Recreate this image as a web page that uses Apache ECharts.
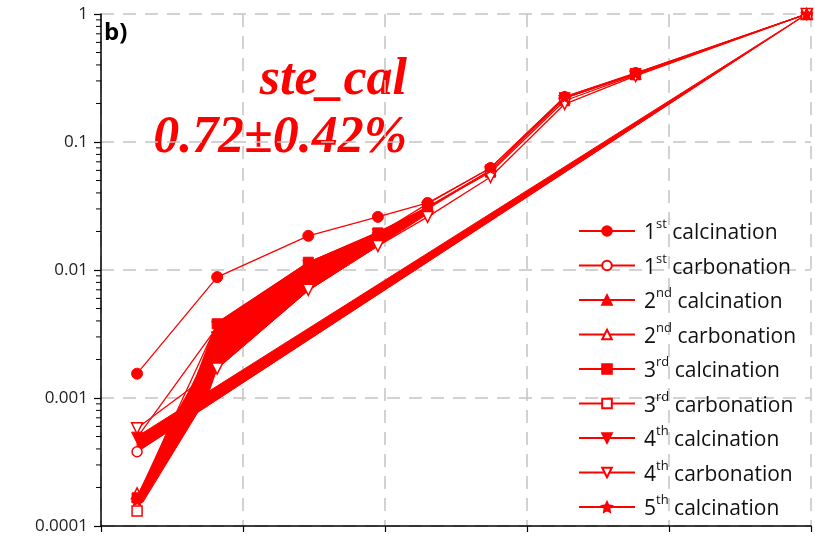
<!DOCTYPE html>
<html>
<head>
<meta charset="utf-8">
<script src="https://cdn.jsdelivr.net/npm/echarts@6/dist/echarts.min.js"></script>
<style>
  html, body { margin: 0; padding: 0; background: #fff; }
  #chart { width: 815px; height: 536px; }
</style>
</head>
<body>
<div id="chart"></div>
<script>
// Sampling positions along the horizontal axis (axis runs 0..5)
const xPositions = [0.254, 0.818, 1.46, 1.95, 2.30, 2.743, 3.265, 3.765, 4.97];

// Cumulative fractions for each stage (null = point not recorded)
const calc1 = [0.00155, 0.0088, 0.0185, 0.026, 0.0334, 0.0626, 0.225, 0.346, 1];
const carb1 = [0.00038, null, null, null, null, null, null, null, 1];
const calc2 = [0.00017, 0.0030, 0.0095, 0.018, 0.030, 0.060, 0.22, 0.34, 1];
const carb2 = [0.00018, null, null, null, null, null, null, null, 1];
const calc3 = [0.000166, 0.0038, 0.0115, 0.0195, 0.031, 0.058, 0.21, 0.335, 1];
const carb3 = [0.000131, null, null, null, null, null, null, null, 1];
const calc4 = [0.00049, 0.0036, 0.0108, 0.019, 0.031, 0.060, 0.22, 0.34, 1];
const carb4 = [0.00058, 0.0017, 0.0070, 0.0154, 0.026, 0.0533, 0.198, 0.328, 1];
const calc5 = [0.00016, 0.0032, 0.0100, 0.019, 0.033, 0.0626, 0.225, 0.346, 1];

// Dense bundles of overlapping traces, given as outlines in data units
const bundleUpper = [[0.254, 0.00050], [4.97, 1.0], [0.254, 0.00038]];
const bundleLower = [
  [0.254, 0.000160], [0.50, 0.00066], [0.663, 0.00138], [0.755, 0.0026],
  [0.818, 0.0039], [1.46, 0.0115], [1.95, 0.0198], [2.30, 0.031],
  [2.30, 0.0274], [1.95, 0.0154], [1.46, 0.0069], [0.818, 0.0017],
  [0.748, 0.00102], [0.296, 0.000154]
];

const yTickLabels = ['0.0001', '0.001', '0.01', '0.1', '1'];
const legendNames = [
  ['1', 'st', 'calcination'], ['1', 'st', 'carbonation'],
  ['2', 'nd', 'calcination'], ['2', 'nd', 'carbonation'],
  ['3', 'rd', 'calcination'], ['3', 'rd', 'carbonation'],
  ['4', 'th', 'calcination'], ['4', 'th', 'carbonation'],
  ['5', 'th', 'calcination']
];

const RED = '#ff0000';
const STAR = 'path://M0,-10L2.94,-4.05L9.51,-3.09L4.76,1.55L5.88,8.09L0,5L-5.88,8.09L-4.76,1.55L-9.51,-3.09L-2.94,-4.05Z';

function pairs(vals) {
  return vals.map((v, i) => [xPositions[i], v]);
}

function lineSeries(idx, vals, symbol, filled, rotate, size, joinGaps) {
  const n = legendNames[idx];
  return {
    name: n.join('|'),
    type: 'line',
    data: pairs(vals),
    connectNulls: joinGaps,
    symbol: symbol,
    symbolSize: size,
    symbolRotate: rotate || 0,
    showAllSymbol: true,
    z: 5,
    lineStyle: { color: RED, width: 1.3 },
    itemStyle: filled
      ? { color: RED, borderColor: RED, borderWidth: 1 }
      : { color: '#ffffff', borderColor: RED, borderWidth: 1.5 },
    emphasis: { disabled: true },
    animation: false
  };
}

// minor tick values for the log axis (2..9 within each decade)
const minorTicks = [];
for (let e = -4; e < 0; e++) {
  for (let m = 2; m <= 9; m++) minorTicks.push(m * Math.pow(10, e));
}

function polygonSeries(pts) {
  return {
    type: 'custom',
    silent: true,
    z: 2,
    data: [0],
    renderItem: function (params, api) {
      return {
        type: 'polygon',
        shape: { points: pts.map(p => api.coord(p)) },
        style: { fill: RED, stroke: RED, lineWidth: 1 }
      };
    },
    animation: false
  };
}

const chart = echarts.init(document.getElementById('chart'), null, { renderer: 'canvas' });

const option = {
  animation: false,
  grid: { left: 101, right: 4, top: 14, bottom: 10, containLabel: false },
  xAxis: {
    type: 'value', min: 0, max: 5, interval: 1,
    axisLine: { show: true, lineStyle: { color: '#000', width: 1.5 } },
    axisTick: { show: true, inside: false, length: 6, lineStyle: { color: '#000', width: 1.2 } },
    axisLabel: { show: false },
    splitLine: { show: true, lineStyle: { color: '#c4c4c4', width: 1.5, type: [13, 9] } }
  },
  yAxis: {
    type: 'log', logBase: 10, min: 0.0001, max: 1,
    axisLine: { show: true, lineStyle: { color: '#000', width: 1.5 } },
    axisTick: { show: true, inside: false, length: 7, lineStyle: { color: '#000', width: 1.2 } },
    axisLabel: {
      show: true, margin: 13, fontFamily: 'Open Sans', fontSize: 17, color: '#222',
      formatter: function (v) {
        const k = Math.round(Math.log10(v)) + 4;
        return yTickLabels[k] !== undefined ? yTickLabels[k] : '';
      }
    },
    splitLine: { show: true, lineStyle: { color: '#c4c4c4', width: 1.5, type: [13, 9] } }
  },
  legend: {
    orient: 'vertical',
    left: 573, top: 213,
    itemWidth: 56, itemHeight: 12, itemGap: 8.5,
    data: legendNames.map(n => n.join('|')),
    formatter: function (name) {
      const p = name.split('|');
      return '{n|' + p[0] + '}{s|' + p[1] + '}{t| ' + p[2] + '}';
    },
    textStyle: {
      color: '#111',
      rich: {
        n: { fontFamily: 'Open Sans', fontSize: 21, color: '#111', lineHeight: 26, verticalAlign: 'bottom', padding: [0, 0, 0, 4] },
        s: { fontFamily: 'Open Sans', fontSize: 13, color: '#111', lineHeight: 26, verticalAlign: 'top' },
        t: { fontFamily: 'Open Sans', fontSize: 21, color: '#111', lineHeight: 26, verticalAlign: 'bottom' }
      }
    },
    selectedMode: false
  },
  graphic: [
    { type: 'text', left: 104, top: 21, style: { text: 'b)', font: 'bold 24px "Open Sans"', fill: '#000' } },
    { type: 'text', right: 408, top: 55, style: { text: 'ste_cal', font: 'italic bold 52px "Liberation Serif"', fill: RED, textAlign: 'right' } },
    { type: 'text', right: 408, top: 113, style: { text: '0.72\u00B10.42%', font: 'italic bold 52px "Liberation Serif"', fill: RED, textAlign: 'right' } }
  ],
  series: [
    polygonSeries(bundleUpper),
    polygonSeries(bundleLower),
    {
      type: 'custom', silent: true, z: 6,
      data: minorTicks,
      renderItem: function (params, api) {
        const p = api.coord([0, api.value(0)]);
        return {
          type: 'line',
          shape: { x1: p[0] - 5, y1: p[1], x2: p[0], y2: p[1] },
          style: { stroke: '#000', lineWidth: 1 }
        };
      },
      encode: { y: 0 },
      animation: false
    },
    lineSeries(0, calc1, 'circle', true, 0, 11, true),
    lineSeries(1, carb1, 'circle', false, 0, 10, true),
    lineSeries(2, calc2, 'triangle', true, 0, 11, true),
    lineSeries(3, carb2, 'triangle', false, 0, 11, false),
    lineSeries(4, calc3, 'rect', true, 0, 10, true),
    lineSeries(5, carb3, 'rect', false, 0, 10, false),
    lineSeries(6, calc4, 'triangle', true, 180, 11, true),
    lineSeries(7, carb4, 'triangle', false, 180, 11, true),
    lineSeries(8, calc5, STAR, true, 0, 12, true)
  ]
};

chart.setOption(option);
</script>
</body>
</html>
